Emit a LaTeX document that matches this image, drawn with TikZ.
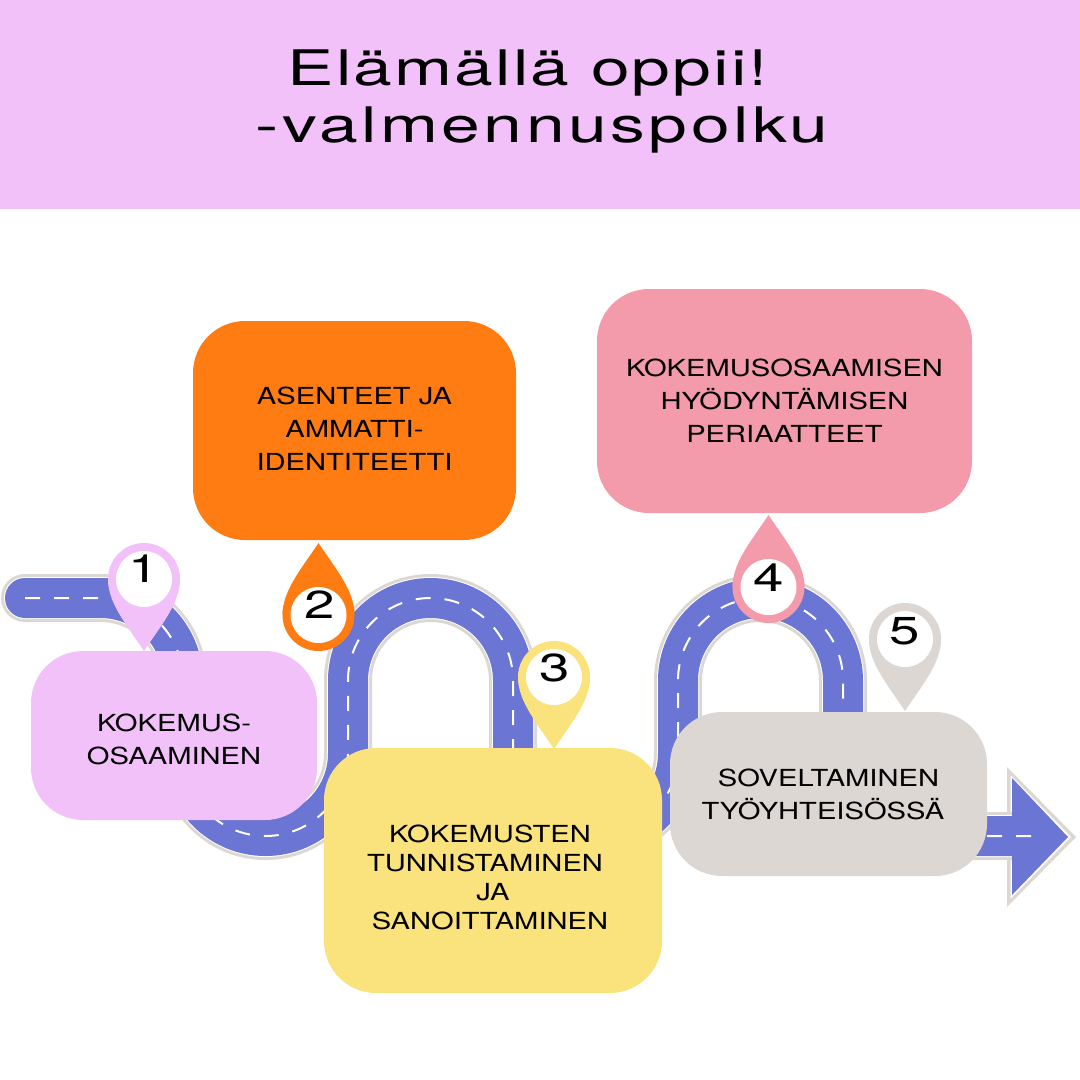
\documentclass[tikz,border=0pt]{standalone}
\usepackage{fontspec}
\setmainfont[FakeStretch=1.24]{TeX Gyre Heros}
\newfontfamily\titlefont[FakeStretch=1.42,LetterSpace=4.4]{TeX Gyre Heros}
\newfontfamily\titlewidefont[FakeStretch=1.42,LetterSpace=7.2]{TeX Gyre Heros}
\newfontfamily\numfont[FakeStretch=1.4]{TeX Gyre Heros}
\definecolor{headerpink}{HTML}{F3C1FA}
\definecolor{boxorange}{HTML}{FF7C13}
\definecolor{boxyellow}{HTML}{FAE37C}
\definecolor{boxrose}{HTML}{F49BAB}
\definecolor{boxgrey}{HTML}{DCD7D2}
\definecolor{roadblue}{HTML}{6A75D4}
\newcommand*\Road{(25,598) -- (183,598) -- (183,836) -- (348,836) -- (348,598) -- (513,598) -- (513,836) -- (678,836) -- (678,598) -- (843,598) -- (843,836) -- (1012,836)}
\tikzset{
	roadline/.style={rounded corners=82.5pt,line cap=round},
	box/.style={rounded corners=52pt,inner sep=0pt,align=center,text=black,
		font=\fontsize{23.5}{33}\selectfont},
	pinhead/.style={circle,inner sep=0pt,minimum size=72pt},
	pinhole/.style={circle,inner sep=0pt,minimum size=56pt,fill=white},
	pinnum/.style={inner sep=0pt,font=\numfont\fontsize{39}{39}\selectfont}
}
\begin{document}
\begin{tikzpicture}[x=1pt,y=-1pt]
		\useasboundingbox (0,0) rectangle (1080,1080);
		\node[fill=headerpink,minimum width=1080pt,minimum height=209pt,inner sep=0pt] (header) at (540,104.5) {};
		\node[align=center,inner sep=0pt,font=\titlefont\fontsize{49}{57}\selectfont] (title) at (535,101.5) {Elämällä oppii!\hspace*{14pt}\\\hspace*{14pt}{\titlewidefont\fontsize{49}{57}\selectfont -valmennuspolku}};
		% arrow head goes under the road
		\fill[boxgrey] (1007,767) -- (1076,837) -- (1007,907) -- cycle;
		\fill[white] (1010.5,775) -- (1071,837) -- (1010.5,899) -- cycle;
		\draw[roadline,boxgrey,line width=48pt] \Road;
		\draw[roadline,white,line width=42pt] \Road;
		\draw[roadline,roadblue,line width=40pt] \Road;
		\fill[roadblue] (1012,778) -- (1068,837) -- (1012,895) -- cycle;
		\draw[roadline,line cap=butt,white,line width=2pt,dash pattern=on 15pt off 14pt] (25,598) -- (183,598) -- (183,836) -- (348,836) -- (348,598) -- (513,598) -- (513,836) -- (678,836) -- (678,598) -- (843,598) -- (843,836) -- (1033,836);
		\node[box,fill=headerpink,minimum width=286pt,minimum height=169pt] (box1) at (174,735.5) {\rule{0pt}{26pt}KOKEMUS-\\OSAAMINEN};
		\node[box,fill=boxorange,minimum width=323pt,minimum height=219pt] (box2) at (354.5,430.5) {ASENTEET JA\\AMMATTI-\\IDENTITEETTI\rule[-4pt]{0pt}{1pt}};
		\node[box,fill=boxyellow,minimum width=338pt,minimum height=245pt,font=\fontsize{23.5}{29}\selectfont] (box3) at (493,870.5) {\rule{0pt}{32pt}KOKEMUSTEN\hspace*{6pt}\\\mbox{TUNNISTAMINEN\hspace{16pt}}\\JA\hspace*{6pt}\\SANOITTAMINEN\hspace*{6pt}};
		\node[box,fill=boxrose,minimum width=375pt,minimum height=224pt] (box4) at (784.5,401) {KOKEMUSOSAAMISEN\\HYÖDYNTÄMISEN\\PERIAATTEET};
		\node[box,fill=boxgrey,minimum width=317pt,minimum height=164pt] (box5) at (828.5,794) {SOVELTAMINEN\\TYÖYHTEISÖSSÄ\hspace*{11pt}};
		% dir: 1 tip below the head, -1 tip above it
		\foreach \n/\px/\py/\dir/\col/\nx/\ny in {
			1/144/579/1/headerpink/144/569,
			2/318.5/615/-1/boxorange/320/605,
			3/554/677/1/boxyellow/554.5/667.5,
			4/768.5/587/-1/boxrose/769/578,
			5/905/639/1/boxgrey/904.5/631}
		{
			\fill[\col] (\px-36,\py) .. controls (\px-36,\py+\dir*24) and (\px-18,\py+\dir*45) .. (\px,\py+\dir*72)
				.. controls (\px+18,\py+\dir*45) and (\px+36,\py+\dir*24) .. (\px+36,\py) -- cycle;
			\node[pinhead,fill=\col] (pin\n) at (\px,\py) {};
			\node[pinhole] (hole\n) at (\px,\py) {};
			\node[pinnum] (num\n) at (\nx,\ny) {\n};
		}
		\end{tikzpicture}
\end{document}
